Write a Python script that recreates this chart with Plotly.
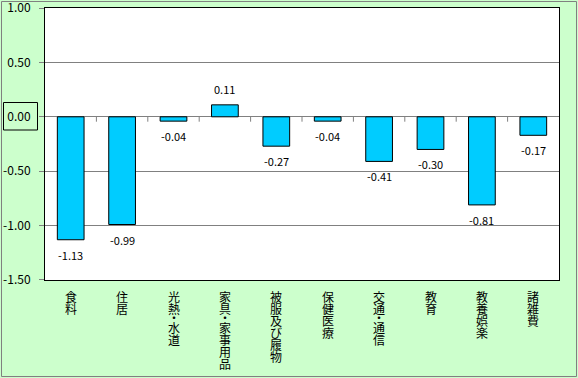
import plotly.graph_objects as go

categories = ["食料", "住居", "光熱・水道", "家具・家事用品", "被服及び履物",
              "保健医療", "交通・通信", "教育", "教養娯楽", "諸雑費"]
values = [-1.13, -0.99, -0.04, 0.11, -0.27, -0.04, -0.41, -0.30, -0.81, -0.17]
y_ticks = [1.0, 0.5, 0.0, -0.5, -1.0, -1.5]

W, H = 578, 378
L, R, T, B = 45, 19, 8, 98
PW, PH = W - L - R, H - T - B

def px_x(x):
    return (x - L) / PW

def px_y(y):
    return (H - B - y) / PH

FONT = "Noto Sans CJK JP"

fig = go.Figure()
fig.add_trace(go.Bar(
    x=list(range(len(categories))), y=values,
    marker=dict(color="#00CCFF", line=dict(width=1, color="#000000")),
    width=0.52,
    hoverinfo="skip",
))

annotations = []
# data labels
for i, v in enumerate(values):
    annotations.append(dict(
        x=i, y=v, xref="x", yref="y", text=f"{v:.2f}", showarrow=False,
        xanchor="center", yanchor="bottom" if v >= 0 else "top",
        yshift=6 if v >= 0 else -5,
        font=dict(size=11, color="#000000", family=FONT),
    ))
# vertical category labels
for i, cat in enumerate(categories):
    offset = 6
    for ch in cat:
        is_dot = ch == "・"
        step = 7 if is_dot else 12
        annotations.append(dict(
            x=i, y=0, xref="x", yref="paper", text=ch, showarrow=False,
            xanchor="center", yanchor="top",
            yshift=-offset + (3 if is_dot else 0),
            font=dict(size=12, color="#000000", family=FONT),
        ))
        offset += step

shapes = []
# category tick marks on the zero axis
for k in range(1, len(categories)):
    shapes.append(dict(type="line", xref="x", yref="y", x0=k - 0.5, x1=k - 0.5,
                       y0=0, y1=-0.045, line=dict(color="#808080", width=1)))
# outer chart border
shapes.append(dict(type="rect", xref="paper", yref="paper",
                   x0=px_x(1.5), x1=px_x(576.5), y0=px_y(376.5), y1=px_y(1.5),
                   line=dict(color="#808080", width=1), layer="below"))
# box around 0.00 label
shapes.append(dict(type="rect", xref="paper", yref="paper",
                   x0=px_x(3.5), x1=px_x(37.5), y0=px_y(130), y1=px_y(102.5),
                   line=dict(color="#000000", width=1)))

fig.update_layout(
    width=W, height=H,
    margin=dict(l=L, r=R, t=T, b=B, pad=0, autoexpand=False),
    paper_bgcolor="#CCFFCC", plot_bgcolor="#FFFFFF",
    showlegend=False,
    bargap=0.48,
    annotations=annotations,
    shapes=shapes,
    xaxis=dict(range=[-0.5, len(categories) - 0.5], showticklabels=False,
               showgrid=False, zeroline=False, ticks="",
               showline=True, linecolor="#000000", linewidth=1, mirror=True),
    yaxis=dict(range=[-1.5001, 1.0001], tickvals=y_ticks,
               ticktext=[f"{v:.2f}" for v in y_ticks],
               ticks="outside", ticklen=5, tickcolor="#808080",
               ticklabelstandoff=6, ticklabeloverflow="allow",
               showgrid=True, gridcolor="#808080", gridwidth=1,
               zeroline=True, zerolinecolor="#808080", zerolinewidth=1,
               showline=True, linecolor="#000000", linewidth=1, mirror=True,
               tickfont=dict(size=12, color="#000000", family=FONT)),
)

fig.write_html("out.html", config={"displayModeBar": False},
               post_script="document.body.style.margin='0px';document.body.style.overflow='hidden';")
